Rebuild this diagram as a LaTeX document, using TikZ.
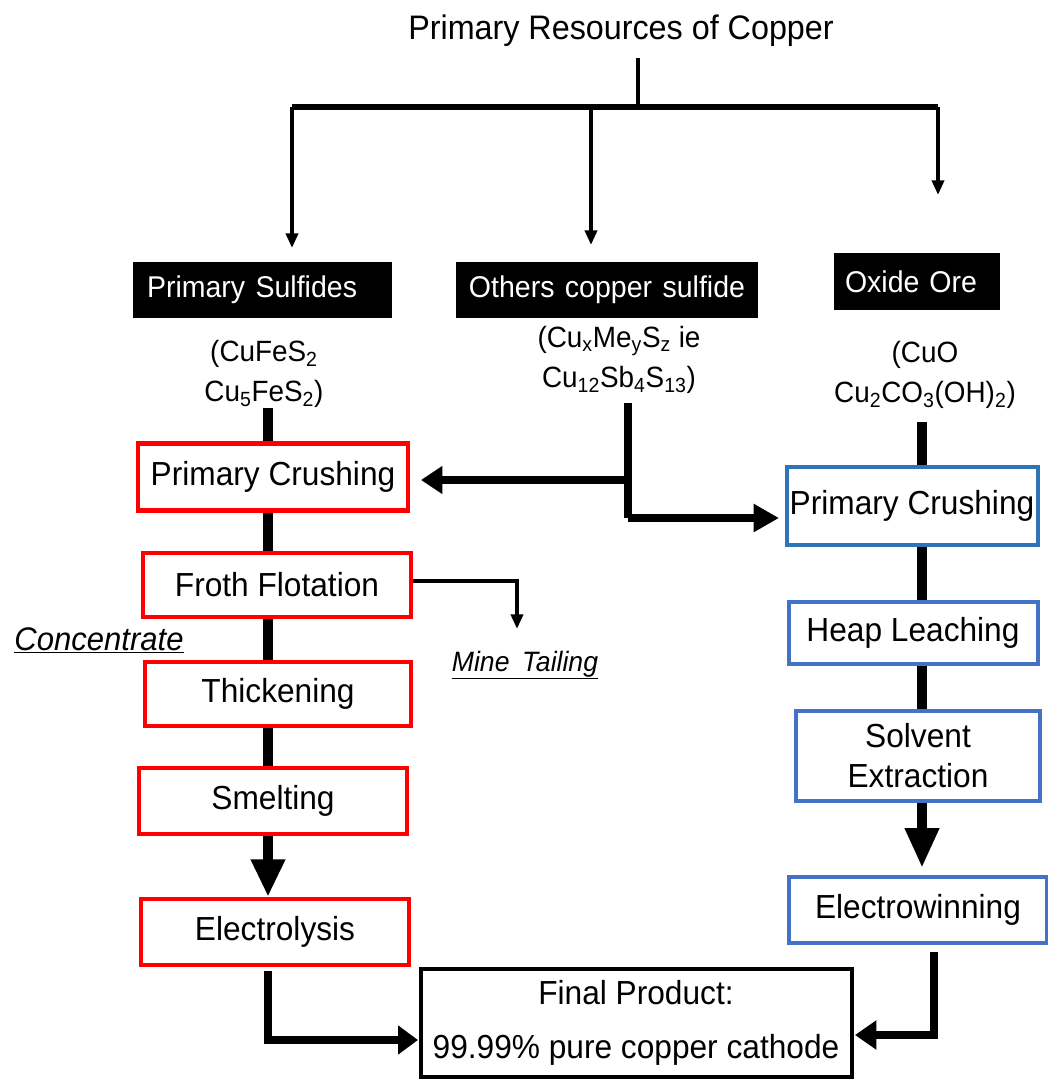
\documentclass[tikz,border=0pt]{standalone}
\usepackage{fontspec}
\setmainfont{Liberation Sans}[FakeStretch=0.95]
\usetikzlibrary{arrows.meta,backgrounds}
\definecolor{cred}{HTML}{FF0000}
\definecolor{cblueA}{HTML}{2E75B6}
\definecolor{cblueB}{HTML}{4472C4}
\begin{document}
\begin{tikzpicture}[x=0.75pt,y=-0.75pt,
  sz/.style 2 args={minimum width=#1*0.75pt, minimum height=#2*0.75pt},
  proc/.style={draw, line width=3pt, fill=white, align=center, inner sep=0pt,
    font=\fontsize{25}{30}\selectfont},
  redbox/.style={proc, draw=cred, line width=3.3pt},
  blueA/.style={proc, draw=cblueA},
  blueB/.style={proc, draw=cblueB},
  finalbox/.style={proc, draw=black, font=\fontsize{25}{40}\selectfont},
  tag/.style={fill=black, text=white, inner sep=0pt,
    font=\fontsize{22.5}{26}\selectfont},
  formula/.style={align=center, inner sep=0pt, font=\fontsize{22}{30}\selectfont},
  note/.style={inner sep=0pt, anchor=base},
  tree/.style={line width=3pt},
  treearrow/.style={tree, -{Triangle[length=11pt,width=9pt]}},
  spine/.style={line width=8pt},
  elbow/.style={line width=6.5pt, line join=miter},
]
\useasboundingbox (0,0) rectangle (1048,1079);

% title and the three ore families
\node[inner sep=0pt, font=\fontsize{25.5}{30}\selectfont] (title) at (621,31) {Primary Resources of Copper};

\node[tag, sz={259}{56}, text width=231*0.75pt, inner xsep=14*0.75pt, align=left]
  (ps) at (262.5,290) {Primary\hspace{0.35em}Sulfides};
\node[tag, sz={302}{56}] (ocs) at (607,290) {Others\hspace{0.35em}copper\hspace{0.35em}sulfide};
\node[tag, sz={166}{57}, text width=144*0.75pt, inner xsep=11*0.75pt, align=left]
  (oo) at (917,281.5) {Oxide Ore};

\node[formula] (fps) at (264,374) {(CuFeS\textsubscript{2}\\Cu\textsubscript{5}FeS\textsubscript{2})};
\node[formula] (focs) at (619,360) {(Cu\textsubscript{x}Me\textsubscript{y}S\textsubscript{z} ie\\Cu\textsubscript{12}Sb\textsubscript{4}S\textsubscript{13})};
\node[formula] (foo) at (925,375) {(CuO\\Cu\textsubscript{2}CO\textsubscript{3}(OH)\textsubscript{2})};

% sulfide route
\node[redbox, sz={270}{67}] (pc1) at (273,477) {Primary Crushing};
\node[redbox, sz={268}{64}] (ff) at (277,585) {Froth Flotation};
\node[redbox, sz={266}{64}] (th) at (278,694) {Thickening};
\node[redbox, sz={268}{66}] (sm) at (273,801) {Smelting};
\node[redbox, sz={268}{66}] (el) at (275,932) {Electrolysis};

% oxide route
\node[blueA, sz={251}{78}] (pc2) at (912,506) {Primary Crushing};
\node[blueB, sz={249}{62}] (hl) at (913,633) {Heap Leaching};
\node[blueB, sz={244}{90}] (se) at (918,756) {Solvent\\Extraction};
\node[blueB, sz={258}{66}] (ew) at (918,910) {Electrowinning};

\node[finalbox, sz={431}{108}] (fp) at (636,1023) {Final Product:\\99.99\% pure copper cathode};

\node[note, font=\fontsize{24.5}{28}\selectfont\itshape] (conc) at (99,650) {\underline{Concentrate}};
\node[note, font=\fontsize{21}{26}\selectfont\itshape] (tail) at (525,671) {\underline{Mine\hspace{0.45em}Tailing}};

% connector corners
\coordinate (trunkTop) at (638,58);
\coordinate (trunk) at (638,107);
\coordinate (barL) at (292,107);
\coordinate (barM) at (591,107);
\coordinate (barR) at (938,107);
\coordinate (tipPS) at (292,248);
\coordinate (tipOCS) at (591,245);
\coordinate (tipOO) at (938,195);

\coordinate (lSpine) at (268,408);
\coordinate (rSpine) at (922,422);
\coordinate (mTop) at (628,403);
\coordinate (mLeft) at (628,480);
\coordinate (mRight) at (628,518);
\coordinate (tipPC1) at (421,480);
\coordinate (tipPC2) at (779,518);

\coordinate (tailTurn) at (517,581);
\coordinate (tailTip) at (517,629);

\coordinate (elOut) at (268,971);
\coordinate (elTurn) at (268,1040);
\coordinate (tipFPL) at (418,1040);
\coordinate (ewOut) at (934,952);
\coordinate (ewTurn) at (934,1035);
\coordinate (tipFPR) at (855,1035);
\coordinate (tipEW) at (922,868);

\begin{scope}[on background layer]
  % branching from the title
  \draw[tree] (trunkTop) -- (trunk);
  \draw[tree, line width=4pt] (barL) -- (barR);
  \draw[treearrow] (barL) -- (tipPS);
  \draw[treearrow] (barM) -- (tipOCS);
  \draw[treearrow] (barR) -- (tipOO);

  % sulfide route
  \draw[spine] (lSpine) -- (lSpine |- pc1.north);
  \draw[spine] (pc1.south -| lSpine) -- (ff.north -| lSpine);
  \draw[spine] (ff.south -| lSpine) -- (th.north -| lSpine);
  \draw[spine] (th.south -| lSpine) -- (sm.north -| lSpine);
  \draw[spine, -{Triangle[length=28pt,width=24pt]}] (sm.south -| lSpine) -- (el.north -| lSpine);
  \draw[tree, -{Triangle[length=11pt,width=9pt]}] (ff.east |- tailTurn) -- (tailTurn) -- (tailTip);
  \draw[elbow, -{Triangle[length=15pt,width=21pt]}] (elOut) -- (elTurn) -- (tipFPL);

  % other sulfides split to both crushers
  \draw[elbow, line width=5.5pt] (mTop) -- (mRight);
  \draw[elbow, line width=5.5pt, -{Triangle[length=16pt,width=20pt]}] (mLeft) -- (tipPC1);
  \draw[elbow, line width=5.5pt, -{Triangle[length=19pt,width=20pt]}] (mTop |- mRight) -- (tipPC2);

  % oxide route
  \draw[spine] (rSpine) -- (rSpine |- pc2.north);
  \draw[spine] (pc2.south -| rSpine) -- (hl.north -| rSpine);
  \draw[spine] (hl.south -| rSpine) -- (se.north -| rSpine);
  \draw[spine, -{Triangle[length=30pt,width=24pt]}] (se.south -| rSpine) -- (tipEW);
  \draw[elbow, -{Triangle[length=16pt,width=21pt]}] (ewOut) -- (ewTurn) -- (tipFPR);
\end{scope}
\end{tikzpicture}
\end{document}
